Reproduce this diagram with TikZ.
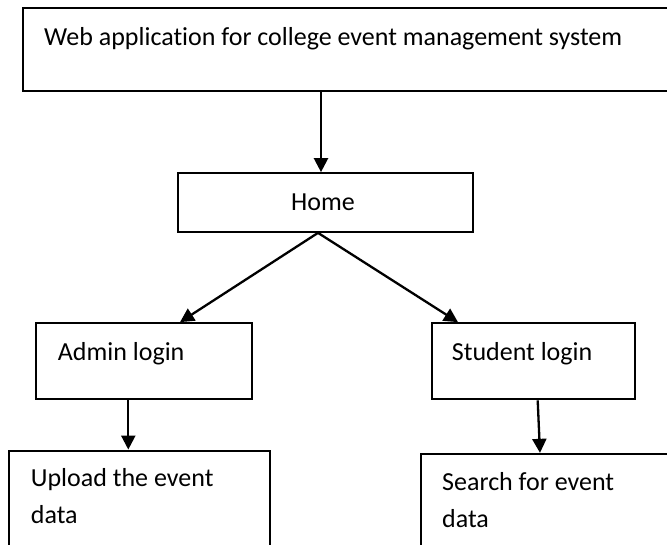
\documentclass[tikz,border=0pt]{standalone}
\usepackage{fontspec}
\setmainfont{Carlito}[Ligatures={NoCommon}]
\usetikzlibrary{arrows.meta}
\begin{document}
\begin{tikzpicture}[x=1pt,y=-1pt,
  box/.style={draw=black,line width=2.3pt,rectangle,inner sep=0pt,fill=white},
  lbl/.style={inner sep=0pt,anchor=base west,font=\fontsize{26}{37}\selectfont},
  arr/.style={draw=black,line width=2.3pt,-{Triangle[length=14pt,width=14pt]}}]
\useasboundingbox (0,0) rectangle (667,544);
\clip (0,0) rectangle (667,544);
\fill[white] (0,0) rectangle (667,544);
% boxes
\node[box,minimum width=647.3pt,minimum height=82.4pt] (top) at (346.35,49.5) {};
\node[box,minimum width=295.3pt,minimum height=58.4pt] (home) at (325.35,202.5) {};
\node[box,minimum width=216pt,minimum height=76pt] (admin) at (144,361.3) {};
\node[box,minimum width=203.3pt,minimum height=76pt] (student) at (533.35,361.3) {};
\node[box,minimum width=260.7pt,minimum height=120pt] (upload) at (139.65,510.7) {};
\node[box,minimum width=259pt,minimum height=120pt] (search) at (550.5,514) {};
% texts
\node[lbl] (ttop) at (44,45) {Web application for college event management system};
\node[lbl,anchor=base] (thome) at (323,210) {Home};
\node[lbl] (tadmin) at (57.7,360) {Admin login};
\node[lbl] (tstudent) at (451.7,360) {Student login};
\node[lbl] (tup1) at (30.7,486) {Upload the event};
\node[lbl] (tup2) at (30.7,523) {data};
\node[lbl] (tse1) at (442,490) {Search for event};
\node[lbl] (tse2) at (442,527) {data};
% connector helper coordinates
\coordinate (c1) at (321,0);
\coordinate (c2) at (318,0);
\coordinate (c3) at (180,0);
\coordinate (c4) at (458,0);
\coordinate (c5) at (128.3,0);
\coordinate (c6) at (537.7,0);
\coordinate (c7) at (540,0);
% connectors
\draw[arr] (top.south -| c1) -- (home.north -| c1);
\draw[arr] (home.south -| c2) -- (admin.north -| c3);
\draw[arr] (home.south -| c2) -- (student.north -| c4);
\draw[arr] (admin.south -| c5) -- (upload.north -| c5);
\draw[arr] (student.south -| c6) -- (search.north -| c7);
\end{tikzpicture}
\end{document}
